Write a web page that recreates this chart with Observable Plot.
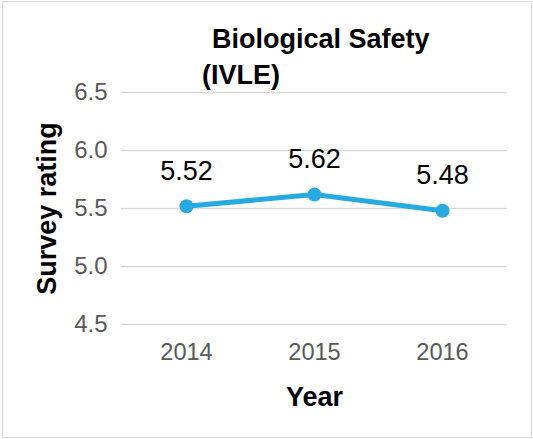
<!DOCTYPE html>
<html><head><meta charset="utf-8">
<script src="https://cdn.jsdelivr.net/npm/d3@7"></script>
<script src="https://cdn.jsdelivr.net/npm/@observablehq/plot@0.6"></script>
<style>
html,body{margin:0;padding:0;background:#fff;}
#wrap{position:relative;width:533px;height:439px;overflow:hidden;font-family:"Liberation Sans",Arial,sans-serif;}
#border{position:absolute;left:2px;top:1px;width:530px;height:437px;border:1px solid #d9d9d9;box-sizing:border-box;}
.title{position:absolute;font-weight:bold;font-size:27px;color:#000;white-space:nowrap;line-height:1;}
#t1{left:212px;top:26px;}
#t2{left:202px;top:62px;}
#chart{position:absolute;left:0;top:0;}
</style>
</head><body>
<div id="wrap"><div id="border"></div><div id="chart"></div>
<div class="title" id="t1">Biological Safety</div>
<div class="title" id="t2">(IVLE)</div>
</div>
<script>
const years = ["2014", "2015", "2016"];
const ratings = [5.52, 5.62, 5.48];
const yTicks = [4.5, 5.0, 5.5, 6.0, 6.5];
const data = years.map((y, i) => ({year: y, rating: ratings[i]}));
const blue = "#29a9e1";
const chart = Plot.plot({
  width: 533, height: 439,
  marginLeft: 121, marginRight: 26, marginTop: 92, marginBottom: 115,
  style: {fontFamily: '"Liberation Sans", Arial, sans-serif', background: "transparent"},
  x: {type: "point", domain: years, padding: 0.5, label: null},
  y: {domain: [4.5, 6.5], label: null},
  marks: [
    Plot.gridY(yTicks, {stroke: "#d9d9d9", strokeOpacity: 1, strokeWidth: 1.5}),
    Plot.axisY(yTicks, {tickSize: 0, tickPadding: 14, tickFormat: d => d.toFixed(1), fontSize: 24, fill: "#595959", label: null}),
    Plot.axisX(years, {tickSize: 0, tickPadding: 19, fontSize: 23.5, fill: "#595959", label: null}),
    Plot.line(data, {x: "year", y: "rating", stroke: blue, strokeWidth: 5}),
    Plot.dot(data, {x: "year", y: "rating", r: 7, fill: blue}),
    Plot.text(data, {x: "year", y: "rating", text: d => d.rating.toFixed(2), dy: -35, fontSize: 27, fill: "#000"}),
    Plot.text(["Survey rating"], {frameAnchor: "left", textAnchor: "middle", lineAnchor: "middle", rotate: -90, dx: -74, fontSize: 27, fontWeight: "bold", fill: "#000"}),
    Plot.text(["Year"], {frameAnchor: "bottom", textAnchor: "middle", lineAnchor: "middle", dy: 73, fontSize: 27, fontWeight: "bold", fill: "#000"})
  ]
});
document.getElementById("chart").appendChild(chart);
</script>
</body></html>
